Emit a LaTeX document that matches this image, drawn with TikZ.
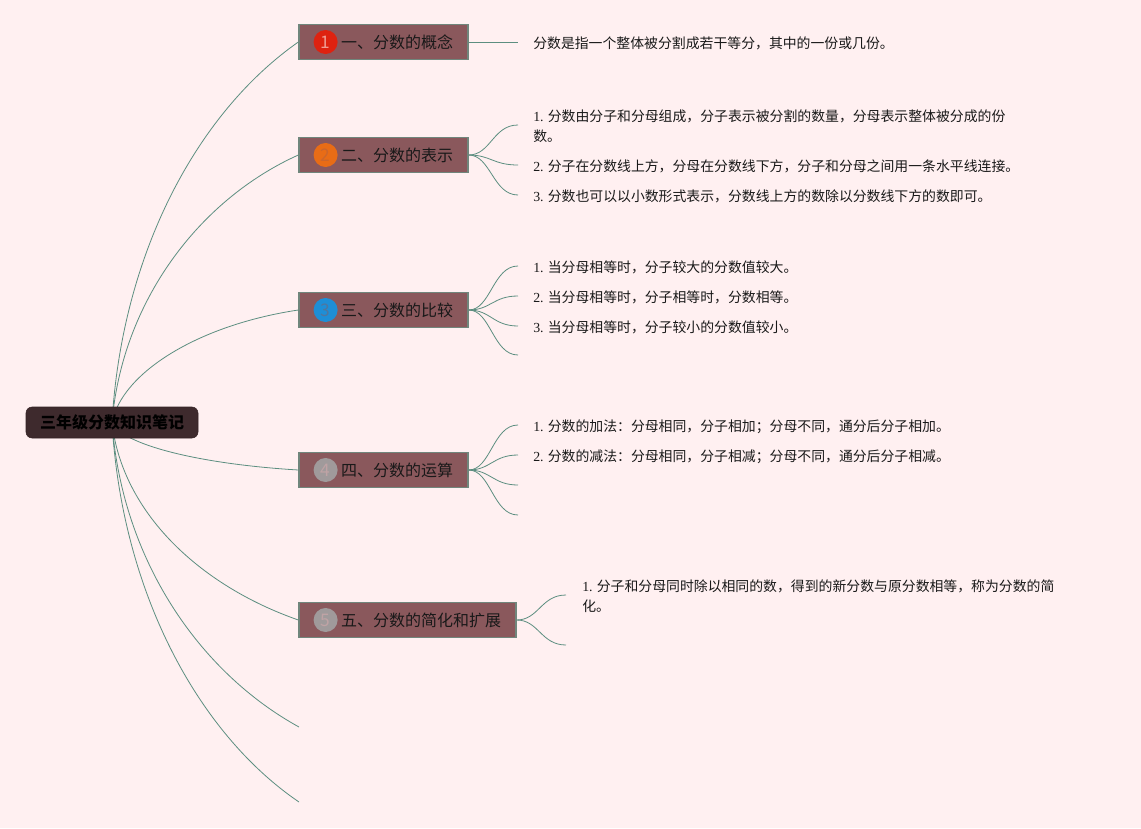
\documentclass[tikz,border=0pt]{standalone}
\usepackage{fontspec}
\setmainfont{Liberation Serif}
\newfontfamily\cjk{Noto Sans CJK SC}
\usepackage{tikz}
\usetikzlibrary{positioning, backgrounds}
\definecolor{bgpink}{RGB}{255,240,241}
\definecolor{rootfill}{RGB}{62,42,45}
\definecolor{topicfill}{RGB}{138,88,92}
\definecolor{topicline}{RGB}{112,134,124}
\definecolor{twigline}{RGB}{92,142,128}
\definecolor{badgered}{RGB}{222,34,16}
\definecolor{badgeorange}{RGB}{232,108,22}
\definecolor{badgeblue}{RGB}{30,142,214}
\definecolor{badgegray}{RGB}{160,154,155}
\pgfdeclarelayer{paper}
\pgfsetlayers{paper,background,main}

\begin{document}
\begin{tikzpicture}[x=0.75pt, y=-0.75pt,
                  rootbox/.style={rectangle,rounded corners=4.5pt,fill=rootfill,draw=rootfill!85!black,
                    minimum width=129pt,minimum height=23.25pt,text=black,
                    font=\cjk\bfseries\fontsize{12}{14}\selectfont},
                  topicbox/.style={rectangle,fill=topicfill,draw=topicline,line width=1pt,
                    minimum width=126.75pt,minimum height=26.25pt},
                  badge/.style={circle,inner sep=0pt,minimum size=18pt,
                    font=\cjk\fontsize{13}{13}\selectfont},
                  heading/.style={inner sep=0pt,text=black!90,font=\cjk\fontsize{12}{14}\selectfont},
                  leaf/.style={inner sep=0pt,align=left,text=black!90,yshift=-1.2pt,
                    font=\cjk\fontsize{10.4}{15}\selectfont},
                  twig/.style={draw=twigline,line width=0.6pt}
                  ]
                  \useasboundingbox (0,0) rectangle (1141,828);
                  \begin{pgfonlayer}{paper}
                  \fill[bgpink] (0,0) rectangle (1141,828);
                  \end{pgfonlayer}

                  \node[rootbox] (root) at (112,422.5) {三年级分数知识笔记};

                  % topics
                  \node[topicbox] (k1) at (383.5,42) {};
                  \node[badge,fill=badgered,text=badgered!45!white] (b1) [right=11.25pt of k1.west] {1};
                  \node[heading] (n1) [right=2.25pt of b1] {一、分数的概念};

                  \node[topicbox] (k2) at (383.5,155) {};
                  \node[badge,fill=badgeorange,text=badgeorange!70!topicfill] (b2) [right=11.25pt of k2.west] {2};
                  \node[heading] (n2) [right=2.25pt of b2] {二、分数的表示};

                  \node[topicbox] (k3) at (383.5,310) {};
                  \node[badge,fill=badgeblue,text=badgeblue!55!topicfill] (b3) [right=11.25pt of k3.west] {3};
                  \node[heading] (n3) [right=2.25pt of b3] {三、分数的比较};

                  \node[topicbox] (k4) at (383.5,470) {};
                  \node[badge,fill=badgegray,text=topicfill!55!white] (b4) [right=11.25pt of k4.west] {4};
                  \node[heading] (n4) [right=2.25pt of b4] {四、分数的运算};

                  \node[topicbox,minimum width=162.75pt] (k5) at (407.5,620) {};
                  \node[badge,fill=badgegray,text=topicfill!55!white] (b5) [right=11.25pt of k5.west] {5};
                  \node[heading] (n5) [right=2.25pt of b5] {五、分数的简化和扩展};

                  \coordinate (e6) at (299,727);
                  \coordinate (e7) at (299,802);

                  % leaves
                  \coordinate (e11) at (518,42);
                  \node[leaf] (t11) [right=11.25pt of e11] {分数是指一个整体被分割成若干等分，其中的一份或几份。};

                  \coordinate (e21) at (518,125);
                  \coordinate (e22) at (518,165);
                  \coordinate (e23) at (518,195);
                  \node[leaf] (t21) [right=11.25pt of e21] {{\rmfamily 1.} 分数由分子和分母组成，分子表示被分割的数量，分母表示整体被分成的份\\数。};
                  \node[leaf] (t22) [right=11.25pt of e22] {{\rmfamily 2.} 分子在分数线上方，分母在分数线下方，分子和分母之间用一条水平线连接。};
                  \node[leaf] (t23) [right=11.25pt of e23] {{\rmfamily 3.} 分数也可以以小数形式表示，分数线上方的数除以分数线下方的数即可。};

                  \coordinate (e31) at (518,266);
                  \coordinate (e32) at (518,296);
                  \coordinate (e33) at (518,326);
                  \coordinate (e34) at (518,355);
                  \node[leaf] (t31) [right=11.25pt of e31] {{\rmfamily 1.} 当分母相等时，分子较大的分数值较大。};
                  \node[leaf] (t32) [right=11.25pt of e32] {{\rmfamily 2.} 当分母相等时，分子相等时，分数相等。};
                  \node[leaf] (t33) [right=11.25pt of e33] {{\rmfamily 3.} 当分母相等时，分子较小的分数值较小。};

                  \coordinate (e41) at (518,425);
                  \coordinate (e42) at (518,455);
                  \coordinate (e43) at (518,485);
                  \coordinate (e44) at (518,515);
                  \node[leaf] (t41) [right=11.25pt of e41] {{\rmfamily 1.} 分数的加法：分母相同，分子相加；分母不同，通分后分子相加。};
                  \node[leaf] (t42) [right=11.25pt of e42] {{\rmfamily 2.} 分数的减法：分母相同，分子相减；分母不同，通分后分子相减。};

                  \coordinate (e51) at (566,595);
                  \coordinate (e52) at (566,645);
                  \node[leaf] (t51) [right=12pt of e51] {{\rmfamily 1.} 分子和分母同时除以相同的数，得到的新分数与原分数相等，称为分数的简\\化。};

                  % connectors
                  \begin{pgfonlayer}{background}
                  \draw[twig] (root.center) .. controls +(10,-171) and +(-100,70) .. (k1.west);
                  \draw[twig] (root.center) .. controls +(10,-120) and +(-100,45) .. (k2.west);
                  \draw[twig] (root.center) .. controls +(10,-50) and +(-100,15) .. (k3.west);
                  \draw[twig] (root.center) .. controls +(10,22) and +(-100,-6) .. (k4.west);
                  \draw[twig] (root.center) .. controls +(10,89) and +(-100,-35) .. (k5.west);
                  \draw[twig] (root.center) .. controls +(10,137) and +(-100,-55) .. (e6);
                  \draw[twig] (root.center) .. controls +(10,171) and +(-100,-68) .. (e7);

                  \draw[twig] (k1.east) -- (e11);
                  \foreach \e in {e21,e22,e23}
                    \draw[twig] (k2.east) .. controls +(22,0) and +(-25,0) .. (\e);
                  \foreach \e in {e31,e32,e33,e34}
                    \draw[twig] (k3.east) .. controls +(22,0) and +(-25,0) .. (\e);
                  \foreach \e in {e41,e42,e43,e44}
                    \draw[twig] (k4.east) .. controls +(22,0) and +(-25,0) .. (\e);
                  \foreach \e in {e51,e52}
                    \draw[twig] (k5.east) .. controls +(22,0) and +(-25,0) .. (\e);
                  \end{pgfonlayer}
                \end{tikzpicture}
\end{document}
